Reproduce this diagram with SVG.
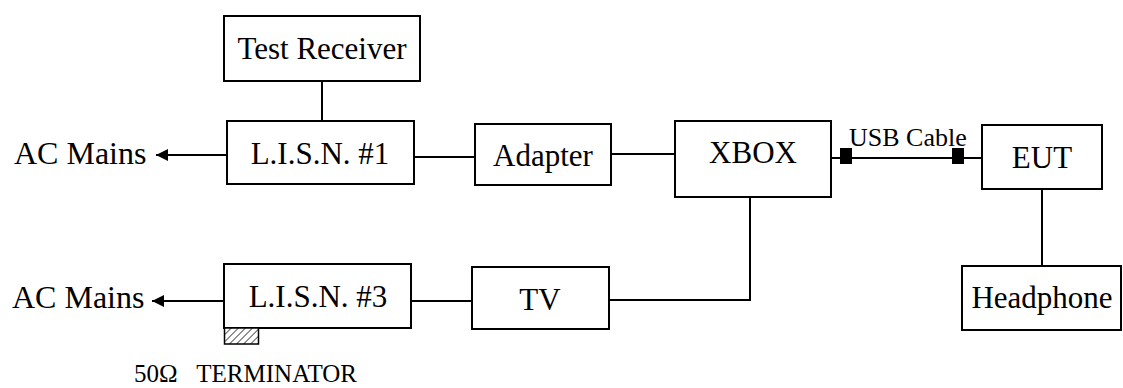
<svg xmlns="http://www.w3.org/2000/svg" width="1123" height="388" viewBox="0 0 1123 388">
<defs>
<style>
.box{fill:#fff;stroke:#000;stroke-width:2}
.t{font-family:"Liberation Serif","Times New Roman",serif;font-size:31px;fill:#000;text-anchor:middle}
.tl{font-family:"Liberation Serif","Times New Roman",serif;font-size:32px;fill:#000}
.ln{fill:none;stroke:#000;stroke-width:2}
</style>
<marker id="arr" viewBox="0 0 10 10" refX="10" refY="5" markerWidth="16" markerHeight="12" markerUnits="userSpaceOnUse" orient="auto">
<path d="M0,0 L10,5 L0,10 z" fill="#000"/>
</marker>
<pattern id="hatch" patternUnits="userSpaceOnUse" width="5" height="5" patternTransform="rotate(45)">
<rect width="5" height="5" fill="#fff"/>
<line x1="0" y1="0" x2="0" y2="5" stroke="#555" stroke-width="2"/>
</pattern>
</defs>
<g id="connectors">
<line class="ln" x1="322" y1="81" x2="322" y2="121"/>
<line class="ln" x1="227" y1="155" x2="156" y2="155" marker-end="url(#arr)"/>
<line class="ln" x1="414" y1="157" x2="475" y2="157"/>
<line class="ln" x1="611" y1="154" x2="675" y2="154"/>
<line class="ln" x1="831" y1="158" x2="982" y2="158"/>
<rect x="840" y="148" width="12" height="16" fill="#000"/>
<rect x="952" y="148" width="12" height="16" fill="#000"/>
<line class="ln" x1="1042" y1="189" x2="1042" y2="266"/>
<polyline class="ln" points="750,197 750,300 609,300"/>
<line class="ln" x1="411" y1="301" x2="472" y2="301"/>
<line class="ln" x1="224" y1="301" x2="152" y2="301" marker-end="url(#arr)"/>
</g>
<g id="ac1"><text class="tl" x="14" y="164">AC Mains</text></g>
<g id="ac3"><text class="tl" x="12" y="308">AC Mains</text></g>
<g id="test-receiver"><rect class="box" x="224" y="16" width="196" height="65"/><text class="t" x="322" y="59">Test Receiver</text></g>
<g id="lisn1"><rect class="box" x="227" y="121" width="187" height="63"/><text class="t" x="320" y="164">L.I.S.N. #1</text></g>
<g id="adapter"><rect class="box" x="475" y="124" width="136" height="61"/><text class="t" x="543" y="166">Adapter</text></g>
<g id="xbox"><rect class="box" x="675" y="121" width="156" height="76"/><text class="t" x="753" y="163">XBOX</text></g>
<g id="usb-label"><text class="tl" x="849" y="146" style="font-size:26px">USB Cable</text></g>
<g id="eut"><rect class="box" x="982" y="125" width="120" height="64"/><text class="t" x="1042" y="168">EUT</text></g>
<g id="headphone"><rect class="box" x="962" y="266" width="159" height="64"/><text class="t" x="1042" y="308">Headphone</text></g>
<g id="tv"><rect class="box" x="472" y="267" width="137" height="62"/><text class="t" x="540" y="310">TV</text></g>
<g id="lisn3"><rect class="box" x="224" y="264" width="187" height="64"/><text class="t" x="318" y="307">L.I.S.N. #3</text></g>
<g id="terminator"><rect x="224.5" y="328" width="34" height="16" fill="url(#hatch)" stroke="#000" stroke-width="1.5"/>
<text class="tl" x="134" y="382" style="font-size:25px" xml:space="preserve">50Ω   TERMINATOR</text></g>
</svg>
